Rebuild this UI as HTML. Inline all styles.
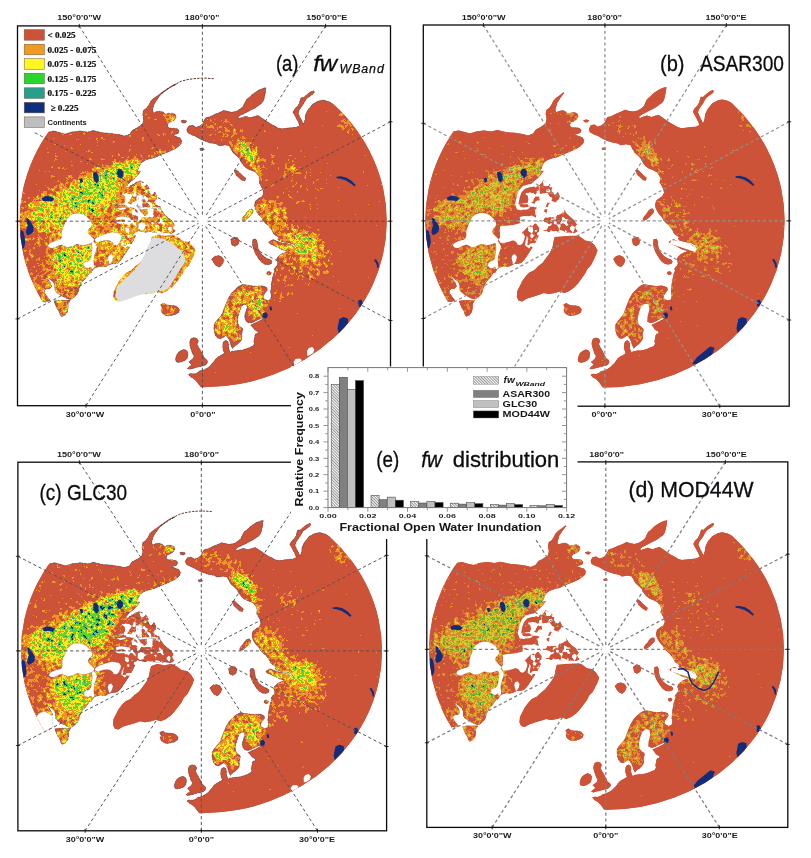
<!DOCTYPE html>
<html lang="en"><head><meta charset="utf-8"><title>Fractional open water maps</title>
<style>html,body{margin:0;padding:0;background:#fff}svg{display:block}text{font-family:"Liberation Sans",sans-serif;fill:#111}.tk{font-size:8.1px;font-weight:bold;text-anchor:middle;fill:#1a1a1a}.lg{font-family:"Liberation Serif",serif;font-weight:bold;font-size:9.2px;fill:#111;stroke:#111;stroke-width:0.22px}.ttl{font-size:21.5px;fill:#0c0c10;stroke:#0c0c10;stroke-width:0.3px}.hx{font-size:6.2px;font-weight:bold;text-anchor:middle;fill:#222}.hy{font-size:6.2px;font-weight:bold;text-anchor:end;fill:#222}</style></head><body>
<svg width="811" height="858" viewBox="0 0 811 858">
<defs>
<path id="na" d="M24.2,150.8 36.1,138.9 47.9,132.0 53.8,131.0 59.7,132.6 65.6,134.0 71.6,132.0 79.5,131.0 87.3,132.0 93.3,130.6 99.2,132.0 105.1,133.0 111.0,133.4 118.9,134.6 124.8,136.0 129.8,134.0 132.7,130.0 136.7,128.1 139.6,126.1 142.6,124.1 143.6,119.2 142.6,114.3 143.6,110.3 146.5,108.3 148.5,105.4 150.5,101.4 153.4,98.5 156.4,96.5 160.3,93.5 164.3,90.8 168.2,88.0 172.2,85.6 176.1,83.9 176.3,84.5 172.2,86.4 168.2,88.8 164.3,91.6 160.7,94.7 158.4,97.7 156.4,100.6 154.4,103.6 153.4,107.3 152.5,110.3 153.4,112.9 156.4,111.7 160.3,110.9 163.3,112.3 165.3,114.3 168.2,113.3 172.2,112.9 175.1,114.3 176.1,117.2 174.2,120.2 171.2,122.1 168.2,123.1 167.3,126.1 169.2,128.1 173.2,128.1 177.1,128.7 179.1,130.6 178.1,133.4 175.1,134.6 172.2,135.0 176.1,136.5 180.1,137.9 182.0,140.9 181.1,143.8 178.1,146.8 174.2,149.2 170.2,151.1 166.3,152.7 162.3,154.3 158.4,156.1 154.4,157.7 150.5,158.6 147.5,159.6 144.6,160.6 141.6,162.6 139.6,165.5 138.6,168.5 137.1,171.5 140.6,171.2 137.5,175.5 134.5,178.6 131.4,181.0 128.5,183.5 127.3,186.0 132.0,185.5 136.3,182.3 140.6,180.8 144.9,183.5 148.0,186.0 149.3,189.0 148.3,191.5 151.7,191.9 155.4,192.7 156.7,195.8 158.1,200.8 159.4,205.1 161.6,210.0 164.1,214.1 167.7,217.4 171.4,220.2 173.9,223.9 175.8,227.9 175.1,231.6 171.4,233.4 166.5,232.6 161.6,233.1 156.7,232.6 153.0,232.2 149.3,231.6 145.6,232.2 141.9,231.6 138.4,230.4 136.6,231.9 135.2,236.4 133.3,240.4 131.1,244.5 128.4,248.8 125.7,252.9 123.0,257.0 120.3,260.8 117.6,263.2 114.3,264.0 111.2,264.0 108.9,264.8 106.2,266.5 103.1,266.9 99.7,266.5 97.2,267.1 95.3,267.8 93.6,268.9 92.2,270.8 90.9,273.2 89.5,272.9 87.3,276.0 85.1,279.0 82.1,282.0 80.7,284.9 79.2,287.9 78.4,291.4 77.0,294.4 74.0,297.3 71.0,299.4 67.3,298.8 62.9,296.6 59.2,294.4 56.3,292.2 54.8,290.0 54.8,285.5 53.3,281.8 50.3,279.6 47.4,277.5 45.2,276.3 46.0,277.2 48.1,279.4 50.3,282.7 51.8,286.3 49.6,288.8 46.6,288.8 44.4,290.7 44.9,293.6 47.4,297.1 50.3,300.6 45.9,302.1 43.7,301.5 37.8,306.2 20.0,312.1 5.2,294.4 -0.7,250.0 -20.0,260.0 -30.0,200.0 -20.0,140.0Z"/>
<path id="eu" d="M186.8,129.6 188.7,125.9 192.4,125.1 195.7,127.3 199.4,126.2 202.6,123.6 204.2,120.3 205.7,117.7 209.0,117.0 214.6,114.4 220.1,112.2 223.8,110.3 227.9,111.6 232.2,112.2 236.8,111.1 240.5,108.8 243.3,106.3 244.6,102.9 246.4,99.6 249.0,97.7 252.0,94.8 255.3,92.2 259.0,90.0 262.7,88.5 266.0,87.6 265.6,91.3 264.7,95.9 263.6,100.5 261.8,103.3 259.0,105.1 255.3,107.9 251.6,109.8 247.9,111.6 244.2,113.5 240.5,115.3 238.1,117.3 238.6,118.8 241.4,117.7 246.0,116.2 250.7,117.7 255.3,116.2 258.1,115.5 260.8,117.3 264.5,119.9 267.3,121.8 270.1,123.6 273.8,125.5 277.5,127.7 281.2,128.8 285.8,128.3 291.4,127.7 296.0,127.3 299.7,125.5 298.2,121.8 296.0,117.7 294.1,114.4 293.0,112.2 294.9,108.8 297.5,106.3 299.3,103.3 300.4,99.6 301.2,97.4 303.4,97.7 305.2,95.9 308.0,93.7 310.8,91.8 313.5,90.7 314.5,92.2 312.6,94.4 309.8,96.3 307.1,98.1 304.9,101.1 303.4,104.2 301.2,107.0 299.3,109.8 298.2,112.9 300.0,117.2 301.9,120.9 303.4,124.2 304.9,119.9 305.6,114.8 308.0,109.8 312.6,104.2 318.2,101.1 322.8,100.1 328.3,101.4 335.0,104.4 420.0,100.0 460.0,230.0 420.0,420.0 203.0,440.0 202.1,393.6 200.7,386.9 199.2,384.7 197.0,381.7 194.0,378.8 191.0,377.3 188.8,375.1 188.8,374.3 191.0,373.6 194.0,374.0 197.0,372.9 199.2,371.1 201.4,370.6 203.6,369.9 206.6,368.4 208.8,366.9 211.0,364.7 213.2,362.5 214.7,360.3 216.2,358.4 218.4,356.6 221.4,355.1 223.6,353.9 224.3,352.9 223.2,349.9 222.6,347.0 222.9,344.0 223.6,341.8 225.8,340.3 228.0,341.8 228.8,344.7 228.5,347.7 229.5,350.7 230.6,352.7 231.6,351.3 234.4,351.0 236.6,350.5 239.4,350.5 242.7,349.9 246.1,348.8 249.4,347.5 252.9,346.1 254.4,343.8 253.8,341.1 254.4,338.3 254.9,335.5 255.8,333.8 257.7,333.8 258.0,331.6 255.5,330.5 253.8,328.9 252.2,326.6 250.7,325.1 253.8,323.6 257.2,322.0 260.5,320.3 262.9,319.2 262.7,317.8 260.5,318.5 257.2,320.2 253.8,321.9 250.5,323.0 248.6,322.7 246.4,321.6 245.0,319.4 244.7,316.6 245.3,313.3 246.4,310.0 247.2,306.7 246.3,304.7 244.1,304.2 241.3,306.4 240.2,310.0 239.1,313.3 238.0,316.6 237.4,320.0 238.0,323.5 239.7,326.4 242.2,328.2 242.7,329.7 242.1,332.2 241.5,335.0 242.1,337.7 241.0,340.5 239.3,342.5 237.7,344.1 235.6,345.6 233.6,347.3 232.7,348.6 231.9,347.2 230.7,344.4 230.0,341.6 228.9,339.4 227.7,337.7 227.0,336.4 225.5,335.7 223.3,337.2 220.5,338.8 217.8,338.3 215.5,335.5 214.1,331.1 213.9,327.2 214.0,324.6 215.9,321.8 218.1,319.0 220.5,316.2 222.4,313.5 223.7,309.8 225.1,306.1 226.6,302.4 227.9,299.2 229.8,295.9 231.6,293.1 234.4,290.3 237.2,287.6 239.9,285.7 242.7,284.4 246.4,284.8 251.0,285.7 255.7,286.3 260.3,285.7 264.0,286.3 266.8,287.6 267.3,290.0 265.5,292.6 263.6,295.0 263.1,297.7 264.9,299.6 267.7,300.5 270.5,299.6 271.4,295.9 270.6,292.2 271.0,288.5 271.4,283.9 272.3,279.2 273.2,274.6 275.1,270.0 273.8,269.9 275.0,267.7 276.6,266.0 277.7,263.8 277.2,261.6 276.6,259.4 277.7,257.1 279.4,255.5 281.6,253.8 283.8,252.7 286.0,252.2 287.2,251.0 284.9,250.5 281.6,249.4 278.8,248.0 275.5,246.3 272.7,244.9 270.0,243.8 268.3,242.2 270.5,240.7 273.3,239.6 276.6,241.1 279.4,242.2 282.7,242.9 287.2,243.8 291.0,244.7 293.8,246.3 295.5,248.5 296.3,247.4 294.9,245.2 291.6,243.6 287.2,242.7 282.7,241.8 279.4,240.7 277.7,239.2 278.8,237.7 277.2,236.3 275.0,235.0 273.3,233.3 272.2,230.5 270.5,228.3 268.3,225.5 265.5,223.3 263.3,221.1 261.6,217.7 258.9,215.0 256.6,211.6 255.0,208.3 254.4,205.0 255.5,201.1 258.9,198.3 261.8,196.7 263.6,193.0 262.7,189.3 260.8,185.6 259.0,182.8 259.9,180.0 259.0,176.4 256.2,172.7 252.5,170.8 247.9,169.0 244.2,166.2 241.4,162.5 239.6,158.8 236.8,156.0 233.5,153.2 231.2,149.5 229.4,145.8 224.8,144.9 219.2,145.8 216.4,144.0 210.9,143.1 205.3,141.2 200.7,139.4 196.1,136.6 191.5,134.7 187.8,132.9Z"/>
<path id="isl" d="M267.0,272.1 269.4,271.4 271.4,272.7 270.7,274.7 268.3,275.1 266.7,273.8Z M54.0,301.0 58.5,300.3 64.4,300.3 70.3,300.3 68.1,304.0 68.1,307.7 67.3,312.1 64.4,315.8 61.4,316.6 60.0,314.4 59.2,311.4 57.0,308.4 55.5,304.7Z M160.7,304.8 163.7,303.0 166.6,304.8 169.6,305.5 173.3,305.5 177.0,306.6 179.4,309.2 178.8,312.2 176.3,314.0 172.6,315.2 168.9,316.0 165.2,315.2 162.2,312.9 161.0,310.0 162.2,307.8Z M191.0,338.8 194.0,337.6 197.0,338.5 198.4,341.0 197.0,344.0 198.4,347.0 199.9,349.2 201.4,352.1 202.9,355.1 204.4,358.1 206.6,359.5 207.8,361.8 206.6,364.0 204.4,365.5 201.4,366.2 198.4,366.9 195.5,367.7 192.5,368.4 189.6,369.2 187.3,368.4 189.6,366.2 191.8,364.7 190.3,363.2 188.8,361.8 191.0,360.3 193.3,358.1 194.0,355.8 192.5,353.6 191.8,351.4 191.0,349.2 190.3,347.0 189.6,344.0 190.0,341.0Z M175.5,359.5 176.3,355.8 177.7,352.9 180.7,350.7 183.6,349.5 186.6,350.4 188.1,352.9 187.6,355.8 187.1,358.4 185.1,360.3 182.2,361.8 178.8,362.5 176.3,361.8Z M252.8,239.6 255.9,238.9 257.2,241.6 257.4,244.9 258.1,248.3 259.6,251.4 261.9,254.5 264.5,256.9 267.6,258.7 270.7,259.8 272.3,261.4 271.4,263.6 268.3,264.7 264.7,264.2 261.6,262.3 259.2,259.4 257.0,256.0 254.8,252.5 253.3,248.5 252.5,244.4Z M251.6,208.9 253.3,210.5 252.8,213.3 250.5,215.5 248.3,217.7 245.5,220.0 242.8,221.1 241.7,219.4 243.3,216.6 245.5,214.4 247.2,211.6 249.4,209.4Z M211.7,259.2 214.7,256.2 218.4,255.5 222.1,257.2 224.0,260.4 222.6,264.1 219.6,267.1 216.6,266.1 214.2,263.6Z M230.7,239.5 233.9,237.0 237.3,237.5 239.3,240.7 238.1,244.4 234.9,246.4 231.9,244.9Z M234.0,170.8 236.8,169.9 239.6,172.7 242.3,175.4 245.7,178.2 245.1,181.0 242.3,180.6 239.6,178.2 236.4,175.4Z M199.8,148.6 203.5,148.1 204.4,149.9 200.7,150.6Z M181.1,120.8 184.4,120.0 187.2,121.2 185.0,123.1 182.0,122.7Z"/>
<path id="gl" d="M151.9,237.0 158.1,234.5 165.5,235.8 172.9,234.5 177.8,237.0 182.8,240.7 188.9,241.9 192.6,245.6 195.6,250.6 193.9,255.5 191.4,260.4 188.9,265.4 185.2,269.1 182.8,274.0 179.1,278.9 175.4,283.8 171.7,287.5 166.7,291.2 161.8,293.2 156.9,291.7 151.9,293.2 145.8,294.2 140.8,293.2 135.9,294.9 129.7,296.7 123.6,298.6 118.6,301.6 114.9,300.6 113.2,296.7 113.7,291.2 116.2,286.3 118.6,281.4 122.3,276.4 126.0,272.7 131.0,270.3 134.7,266.6 139.6,262.9 143.3,258.0 147.0,253.0 149.5,248.1 150.7,241.9Z"/>
<path id="glin" d="M152.3,237.5 164.1,238.8 174.5,244.9 183.1,252.8 185.6,260.7 180.6,268.6 174.7,278.5 167.6,289.1 156.7,292.0 146.9,293.3 137.0,295.7 127.1,299.4 119.2,301.9 115.3,296.7 116.8,287.3 122.7,280.4 130.1,274.3 137.5,266.9 143.6,257.0 147.6,247.1Z"/>
<path id="wat" d="M67.8,217.6 71.2,214.6 75.5,213.2 80.7,213.6 85.4,215.6 89.1,218.7 91.5,221.7 92.2,225.1 90.9,227.1 88.8,229.2 87.7,231.9 89.5,234.6 92.2,237.3 94.3,239.3 93.6,242.0 91.5,243.4 88.8,243.7 86.1,244.8 83.1,245.4 80.0,244.8 76.6,244.1 73.9,245.4 70.5,246.8 67.1,247.5 64.4,246.1 61.7,244.8 59.0,245.4 56.3,246.8 52.9,248.2 49.5,247.7 47.9,245.8 49.2,243.4 52.2,242.0 55.6,240.7 59.0,240.0 61.0,238.7 61.7,235.5 61.4,232.6 62.4,229.2 63.7,225.8 65.1,222.4 66.4,219.7Z M93.6,241.4 95.6,244.1 97.0,246.8 96.3,250.2 94.9,253.6 94.0,257.0 93.6,260.4 94.0,263.7 94.3,267.8 92.2,269.4 90.9,266.7 88.2,268.5 85.4,267.8 83.7,265.8 84.1,263.1 86.1,261.7 88.8,261.0 90.5,259.0 91.3,255.6 91.8,252.2 92.2,248.8 91.9,245.4 91.5,243.1Z M94.3,239.6 97.0,237.3 100.4,235.9 103.7,234.6 107.8,233.2 111.9,232.3 116.0,232.6 120.0,233.9 121.4,236.6 120.7,240.0 119.3,243.4 116.6,245.4 113.9,244.8 112.6,242.3 110.5,241.0 107.1,240.3 103.7,240.7 100.4,241.4 97.6,242.3 95.6,241.8Z M108.5,255.6 111.2,254.3 113.2,257.0 112.6,260.4 111.2,263.1 109.4,264.4 108.5,261.0 107.8,258.3Z M126.4,204.2 123.4,204.7 119.7,204.5 116.6,204.2 114.1,205.4 115.3,207.5 117.8,209.1 120.9,210.1 124.6,209.6 126.6,207.9Z M124.6,219.9 121.5,219.5 118.4,220.0 115.7,221.1 116.6,223.0 119.7,223.9 122.7,223.7 125.2,222.7Z M137.5,194.6 139.4,195.2 141.6,196.4 141.9,200.8 140.9,204.5 139.4,206.7 137.5,205.7 138.2,202.0 138.4,198.3Z M138.8,206.9 141.9,207.5 146.8,206.9 153.0,206.7 159.1,207.5 159.4,208.8 154.2,208.4 148.0,208.8 142.5,209.6 139.1,209.6Z M136.6,195.0 140.5,193.9 143.3,196.1 142.7,200.0 142.2,203.3 142.7,207.2 140.5,208.3 138.3,207.2 137.2,203.3 136.3,198.9Z M115.0,205.0 119.4,203.8 123.9,203.3 128.3,203.3 132.7,204.4 137.2,206.6 139.4,208.8 141.1,212.2 140.5,214.4 138.3,213.8 137.2,210.5 134.4,208.3 130.5,207.2 126.1,207.2 121.6,207.7 117.2,208.3 114.8,207.2Z M147.7,207.2 151.6,206.6 153.8,208.8 153.6,213.3 152.2,216.1 149.4,216.6 147.7,214.4 147.2,210.5Z M116.1,217.2 120.5,216.4 125.0,216.6 130.0,217.7 131.1,219.9 128.9,221.6 125.0,221.3 120.5,221.6 116.7,220.8Z M138.3,223.3 141.6,222.2 145.0,223.3 145.5,226.6 143.8,229.9 140.5,230.5 138.1,228.3Z"/>
<path id="watac" d="M307.0,351.0 308.8,348.1 312.2,347.1 314.4,349.6 313.2,353.0 310.0,355.0 307.3,355.9Z M293.7,362.1 295.5,358.9 299.6,358.4 301.8,359.9 300.3,362.9 297.4,365.1 294.4,365.8Z"/>
<path id="aleut" d="M161.3,93.5 166.3,90.0 171.2,86.6 176.1,83.9 181.1,81.3 187.0,79.7 193.9,78.7 200.0,78.2 206.7,78.2 213.6,78.7"/>
<path id="blacksea" d="M292.7,363.0 297.3,357.1 304.0,351.7 310.7,346.4 315.2,347.7 312.6,355.0 307.2,360.3 300.8,365.7 294.6,367.8Z"/>
<path id="ob" d="M277.2,241.8 282.6,241.3 287.4,244.5 289.3,251.2 291.9,256.6 297.3,261.1 304.0,263.8 309.9,261.1 314.2,255.2 317.4,248.5 319.3,244.5"/>
<path id="watbd" d="M139.8,179.3 135.6,182.6 130.0,184.0 124.7,184.8 119.4,186.3 115.3,190.7 112.9,197.3 111.4,204.7 113.4,209.9 118.7,210.6 120.9,208.4 117.2,207.4 114.9,204.0 116.0,198.1 117.9,192.9 121.4,189.2 126.2,187.7 131.5,186.7 136.5,185.5 139.1,182.6Z M135.6,194.7 144.4,193.2 147.1,197.3 144.4,203.2 141.6,209.2 140.6,215.1 138.6,221.0 135.6,222.4 132.6,219.5 133.2,213.6 135.6,207.7 137.1,201.8Z M145.9,204.0 150.4,202.5 155.7,203.2 160.2,204.7 161.3,209.2 159.5,213.6 155.7,215.4 150.4,214.8 146.6,216.5 143.6,215.1 144.1,209.9Z M135.0,220.2 139.1,219.2 141.3,222.4 141.0,228.4 139.8,234.3 137.6,237.2 135.6,234.3 136.1,228.4 135.3,223.9Z M123.2,217.3 128.5,215.8 133.0,218.0 133.5,222.4 130.0,225.4 125.5,226.1 121.7,229.8 117.2,234.3 112.6,238.7 106.6,241.6 100.5,243.1 96.0,243.1 96.0,226.9 102.0,226.1 109.6,225.4 117.2,223.2 120.9,220.2Z M141.3,235.0 150.4,234.3 159.5,234.0 168.5,233.5 176.1,234.3 176.9,236.0 168.5,236.0 159.5,236.5 151.2,237.2 144.4,238.7 140.6,238.0Z M157.6,89.6 167.4,99.5 191.9,85.6 178.1,69.9Z M270.7,240.2 279.9,241.2 290.1,244.2 297.2,249.2 295.2,252.2 286.0,249.2 276.8,246.2 269.6,244.2Z M243.8,303.8 247.6,304.4 248.5,310.0 246.7,316.6 246.3,322.2 248.9,323.1 243.3,329.1 237.4,324.2 236.7,317.8 238.5,311.1 240.3,306.4Z"/>
<clipPath id="disc"><ellipse cx="203.2" cy="221.2" rx="183.5" ry="166.0"/></clipPath>
<pattern id="hatch" width="2" height="2" patternUnits="userSpaceOnUse" patternTransform="rotate(45)"><rect width="2" height="2" fill="#fff"/><rect width="2" height="0.8" fill="#777"/></pattern>
<path id="wz0" d="M10.0,120.0 190.0,100.0 190.0,170.0 150.0,170.0 100.0,180.0 40.0,215.0 10.0,240.0Z"/>
<path id="wz1" d="M14.0,218.0 24.0,205.0 40.0,193.0 62.0,181.0 90.0,170.0 116.0,160.0 140.0,157.0 150.0,168.0 156.0,190.0 170.0,200.0 185.0,215.0 190.0,235.0 170.0,250.0 140.0,262.0 120.0,285.0 100.0,315.0 85.0,335.0 60.0,340.0 40.0,310.0 22.0,270.0 14.0,240.0Z"/>
<path id="wz2" d="M54.8,200.7 64.7,190.8 77.0,183.4 89.3,176.5 101.7,170.0 118.4,163.5 138.0,160.5 142.0,168.0 136.0,180.0 122.0,190.0 114.0,196.0 109.0,202.0 104.0,209.3 98.0,214.3 89.3,215.5 81.9,211.8 74.5,211.8 67.1,215.5 61.0,219.2 54.8,216.7 49.9,211.8 47.4,206.9Z"/>
<path id="wz3" d="M16.0,226.0 44.0,230.0 49.0,250.0 47.0,268.0 40.0,290.0 26.0,275.0 16.0,250.0Z"/>
<path id="wz4" d="M30.0,205.0 50.0,197.0 66.0,202.0 71.0,215.0 66.0,228.0 50.0,231.0 36.0,227.0 28.0,216.0Z"/>
<path id="wz5" d="M54.9,250.2 67.1,248.8 80.7,246.8 91.5,245.4 93.6,254.3 90.2,259.7 84.8,261.0 83.4,266.5 88.8,270.5 86.1,277.3 80.7,282.7 73.9,284.1 67.1,281.4 60.3,276.0 54.9,267.8 52.2,258.3Z"/>
<path id="wz6" d="M166.0,112.0 172.0,110.0 175.0,118.0 170.0,123.0 165.0,120.0Z"/>
<path id="wz7" d="M150.0,155.0 176.0,146.0 181.0,151.0 156.0,164.0Z"/>
<path id="wz8" d="M120.0,178.0 150.0,178.0 175.0,200.0 180.0,225.0 160.0,240.0 135.0,262.0 118.0,262.0 110.0,235.0 112.0,205.0Z"/>
<path id="wz9" d="M190.0,80.0 400.0,80.0 400.0,400.0 190.0,400.0Z"/>
<path id="wz10" d="M105.0,230.0 150.0,220.0 204.0,228.0 210.0,260.0 185.0,300.0 150.0,310.0 110.0,315.0Z"/>
<path id="wz11" d="M262.0,150.0 300.0,150.0 330.0,180.0 320.0,215.0 285.0,205.0 265.0,185.0Z"/>
<path id="wz12" d="M230.9,145.2 239.8,142.9 250.2,143.7 256.8,149.6 259.0,158.5 260.5,168.8 262.7,177.7 263.5,186.6 260.5,185.1 256.8,176.2 253.1,167.4 247.2,161.4 241.3,157.0 235.4,152.6 231.7,148.9Z"/>
<path id="wz13" d="M195.0,118.0 220.0,116.0 240.0,125.0 250.0,142.0 232.0,143.0 205.0,135.0Z"/>
<path id="wz14" d="M288.6,160.0 291.6,162.9 296.0,167.4 300.5,171.0 297.5,174.8 291.6,173.3 287.1,174.8 282.7,174.0 287.1,168.8 288.6,164.4Z"/>
<path id="wz15" d="M256.8,199.9 265.0,197.0 273.8,202.9 282.7,208.8 287.1,220.6 299.0,226.5 307.9,232.5 319.7,240.0 273.8,240.0 269.4,229.5 262.0,222.1 256.1,211.7Z"/>
<path id="wz16" d="M336.0,112.0 352.0,110.0 358.0,124.0 352.0,134.0 338.0,130.0Z"/>
<path id="wz17" d="M256.6,200.0 271.4,197.5 286.2,204.9 288.6,219.7 283.7,232.1 273.8,233.3 266.4,224.7 260.3,214.8Z"/>
<path id="wz18" d="M271.4,232.1 293.6,227.1 318.2,229.6 333.0,249.3 330.6,274.0 308.4,283.8 288.6,274.0 276.3,256.7 270.1,241.9Z"/>
<path id="wz19" d="M291.1,234.5 305.9,231.6 318.2,237.0 320.7,249.3 314.5,259.2 302.2,260.4 293.6,253.0 289.9,243.2Z"/>
<path id="wz20" d="M270.9,240.7 278.8,242.4 288.6,245.6 298.5,248.1 298.5,252.3 288.6,252.3 278.8,250.6 272.6,246.9Z"/>
<path id="wz21" d="M264.0,261.7 278.8,259.2 293.6,274.0 293.6,298.6 273.8,306.0 264.0,298.6Z"/>
<path id="wz22" d="M213.4,323.3 222.1,306.0 231.9,291.2 243.0,285.1 264.0,285.1 266.4,298.6 264.0,318.4 251.7,320.8 245.5,304.8 239.3,308.5 240.6,328.2 245.5,338.1 236.9,344.3 227.0,336.9 215.9,336.9Z"/>
<path id="wz23" d="M248.0,303.6 256.6,298.6 264.0,303.6 263.5,315.9 254.1,318.9 248.7,313.4Z"/>
<path id="wz24" d="M214.7,323.3 222.1,315.9 229.5,323.3 227.0,334.4 217.1,335.6Z"/>
<path id="wz25" d="M160.7,304.8 169.6,304.1 179.4,309.2 176.3,314.4 168.9,316.3 162.2,312.9Z"/>
<path id="wz26" d="M240.0,206.0 256.0,206.0 256.0,224.0 240.0,224.0Z"/>
<path id="lakes" d="M118.2,169.6 121.1,168.9 123.6,172.1 123.1,176.3 120.6,178.7 118.2,177.0 116.7,173.3Z M93.0,172.8 96.0,171.8 98.4,175.3 98.9,180.2 96.9,183.2 94.5,181.2 93.2,177.0Z M79.2,178.7 82.1,178.2 83.1,181.7 80.7,183.2Z M41.7,198.0 45.9,196.0 50.8,196.7 54.5,198.7 52.1,201.4 47.1,200.9 42.7,200.9Z M26.5,217.5 29.0,219.3 31.4,223.0 33.9,227.3 33.3,231.7 30.8,234.1 27.7,235.4 25.9,232.9 26.5,229.2 27.7,225.5 26.5,221.8Z M21.0,229.8 23.4,231.7 24.7,236.6 25.3,242.7 24.0,247.7 22.2,248.9 21.0,244.0 20.3,237.8 20.0,232.9Z M263.0,312.9 266.0,312.2 267.9,314.7 266.9,317.9 264.0,318.4 262.5,315.9Z M269.4,306.5 271.4,306.5 272.1,310.0 270.1,310.5Z M339.4,318.9 343.4,317.1 347.8,318.4 348.3,323.3 345.9,328.2 342.9,333.2 339.0,334.4 337.5,328.2 338.5,323.3Z M358.2,300.6 361.1,299.6 362.9,303.1 361.6,307.0 358.7,306.5Z M374.0,259.7 375.9,259.2 378.4,262.9 378.9,267.6 377.4,268.1 376.4,264.1Z M336.5,176.8 340.9,176.3 346.6,177.7 351.5,180.7 355.7,185.1 354.7,186.4 350.3,183.2 345.4,180.2 340.4,178.7 336.7,178.2Z"/>
<clipPath id="archclip"><path d="M136.6,180.5 149.4,181.7 151.6,190.0 158.3,193.3 162.7,205.5 169.4,216.6 176.0,223.3 177.1,232.1 167.1,234.4 151.6,232.1 138.3,236.6 135.0,245.5 127.2,249.9 121.6,245.5 122.8,236.6 121.6,222.2 132.7,218.8 131.6,210.0 122.8,206.6 121.6,197.7 123.9,187.8Z"/></clipPath>
<filter id="fragA" x="0" y="0" width="1" height="1" color-interpolation-filters="sRGB"><feTurbulence type="fractalNoise" baseFrequency="0.16" numOctaves="2" seed="5"/><feColorMatrix type="matrix" values="0 0 0 0 1 0 0 0 0 1 0 0 0 0 1 12 0 0 0 -6.5"/></filter>
<filter id="fragB" x="0" y="0" width="1" height="1" color-interpolation-filters="sRGB"><feTurbulence type="fractalNoise" baseFrequency="0.16" numOctaves="2" seed="5"/><feColorMatrix type="matrix" values="0 0 0 0 1 0 0 0 0 1 0 0 0 0 1 12 0 0 0 -5.9"/></filter>
<clipPath id="landclip"><use href="#na"/><use href="#eu"/><use href="#isl"/><use href="#gl"/></clipPath>
<filter id="texa" x="0" y="0" width="1" height="1" color-interpolation-filters="sRGB"><feGaussianBlur in="SourceGraphic" stdDeviation="3.2" result="w"/><feTurbulence type="fractalNoise" baseFrequency="0.24" numOctaves="3" seed="3" result="n0"/><feColorMatrix in="n0" type="matrix" values="1 0 0 0 0 1 0 0 0 0 1 0 0 0 0 0 0 0 0 1" result="n"/><feComposite in="w" in2="n" operator="arithmetic" k1="0" k2="1" k3="0.85" k4="-0.425" result="v"/><feComponentTransfer in="v"><feFuncR type="discrete" tableValues="0.800 0.800 0.800 0.800 0.800 0.800 0.800 0.800 0.800 0.933 0.933 0.933 0.933 0.965 0.965 0.965 0.376 0.376 0.376 0.376 0.149 0.071 0.071 0.071 0.071"/><feFuncG type="discrete" tableValues="0.325 0.325 0.325 0.325 0.325 0.325 0.325 0.325 0.325 0.588 0.588 0.588 0.588 0.910 0.910 0.910 0.824 0.824 0.824 0.824 0.627 0.173 0.173 0.173 0.173"/><feFuncB type="discrete" tableValues="0.220 0.220 0.220 0.220 0.220 0.220 0.220 0.220 0.220 0.141 0.141 0.141 0.141 0.149 0.149 0.149 0.173 0.173 0.173 0.173 0.529 0.471 0.471 0.471 0.471"/></feComponentTransfer><feGaussianBlur stdDeviation="0.45"/></filter>
<filter id="texb" x="0" y="0" width="1" height="1" color-interpolation-filters="sRGB"><feGaussianBlur in="SourceGraphic" stdDeviation="3.2" result="w"/><feTurbulence type="fractalNoise" baseFrequency="0.24" numOctaves="3" seed="11" result="n0"/><feColorMatrix in="n0" type="matrix" values="1 0 0 0 0 1 0 0 0 0 1 0 0 0 0 0 0 0 0 1" result="n"/><feComposite in="w" in2="n" operator="arithmetic" k1="0" k2="1" k3="0.85" k4="-0.425" result="v"/><feComponentTransfer in="v"><feFuncR type="discrete" tableValues="0.800 0.800 0.800 0.800 0.800 0.800 0.800 0.800 0.800 0.871 0.871 0.871 0.871 0.839 0.839 0.839 0.471 0.471 0.471 0.471 0.157 0.071 0.071 0.071 0.071"/><feFuncG type="discrete" tableValues="0.325 0.325 0.325 0.325 0.325 0.325 0.325 0.325 0.325 0.549 0.549 0.549 0.549 0.784 0.784 0.784 0.698 0.698 0.698 0.698 0.510 0.173 0.173 0.173 0.173"/><feFuncB type="discrete" tableValues="0.220 0.220 0.220 0.220 0.220 0.220 0.220 0.220 0.220 0.173 0.173 0.173 0.173 0.188 0.188 0.188 0.196 0.196 0.196 0.196 0.471 0.471 0.471 0.471 0.471"/></feComponentTransfer><feGaussianBlur stdDeviation="0.45"/></filter>
<filter id="texc" x="0" y="0" width="1" height="1" color-interpolation-filters="sRGB"><feGaussianBlur in="SourceGraphic" stdDeviation="3.2" result="w"/><feTurbulence type="fractalNoise" baseFrequency="0.24" numOctaves="3" seed="7" result="n0"/><feColorMatrix in="n0" type="matrix" values="1 0 0 0 0 1 0 0 0 0 1 0 0 0 0 0 0 0 0 1" result="n"/><feComposite in="w" in2="n" operator="arithmetic" k1="0" k2="1" k3="0.85" k4="-0.425" result="v"/><feComponentTransfer in="v"><feFuncR type="discrete" tableValues="0.800 0.800 0.800 0.800 0.800 0.800 0.800 0.800 0.800 0.933 0.933 0.933 0.933 0.965 0.965 0.965 0.376 0.376 0.376 0.376 0.149 0.071 0.071 0.071 0.071"/><feFuncG type="discrete" tableValues="0.325 0.325 0.325 0.325 0.325 0.325 0.325 0.325 0.325 0.588 0.588 0.588 0.588 0.910 0.910 0.910 0.824 0.824 0.824 0.824 0.627 0.173 0.173 0.173 0.173"/><feFuncB type="discrete" tableValues="0.220 0.220 0.220 0.220 0.220 0.220 0.220 0.220 0.220 0.141 0.141 0.141 0.141 0.149 0.149 0.149 0.173 0.173 0.173 0.173 0.529 0.471 0.471 0.471 0.471"/></feComponentTransfer><feGaussianBlur stdDeviation="0.45"/></filter>
<filter id="texd" x="0" y="0" width="1" height="1" color-interpolation-filters="sRGB"><feGaussianBlur in="SourceGraphic" stdDeviation="3.2" result="w"/><feTurbulence type="fractalNoise" baseFrequency="0.24" numOctaves="3" seed="23" result="n0"/><feColorMatrix in="n0" type="matrix" values="1 0 0 0 0 1 0 0 0 0 1 0 0 0 0 0 0 0 0 1" result="n"/><feComposite in="w" in2="n" operator="arithmetic" k1="0" k2="1" k3="0.85" k4="-0.425" result="v"/><feComponentTransfer in="v"><feFuncR type="discrete" tableValues="0.800 0.800 0.800 0.800 0.800 0.800 0.800 0.800 0.800 0.871 0.871 0.871 0.871 0.839 0.839 0.839 0.471 0.471 0.471 0.471 0.157 0.071 0.071 0.071 0.071"/><feFuncG type="discrete" tableValues="0.325 0.325 0.325 0.325 0.325 0.325 0.325 0.325 0.325 0.549 0.549 0.549 0.549 0.784 0.784 0.784 0.698 0.698 0.698 0.698 0.510 0.173 0.173 0.173 0.173"/><feFuncB type="discrete" tableValues="0.220 0.220 0.220 0.220 0.220 0.220 0.220 0.220 0.220 0.173 0.173 0.173 0.173 0.188 0.188 0.188 0.196 0.196 0.196 0.196 0.471 0.471 0.471 0.471 0.471"/></feComponentTransfer><feGaussianBlur stdDeviation="0.45"/></filter>
</defs>
<rect width="811" height="858" fill="#fff"/>
<g id="panel-a">
<g transform="matrix(1.00000 0 0 1.00000 0.000 0.000)"><g clip-path="url(#disc)">
<use href="#na" fill="#CC5338"/><use href="#eu" fill="#CC5338"/><use href="#isl" fill="#CC5338"/>
<g clip-path="url(#landclip)"><g filter="url(#texa)"><rect x="0" y="30" width="420" height="390" fill="#000"/>
<use href="#wz0" fill="rgb(43,43,43)"/>
<use href="#wz1" fill="rgb(102,102,102)"/>
<use href="#wz2" fill="rgb(161,161,161)"/>
<use href="#wz3" fill="rgb(71,71,71)"/>
<use href="#wz4" fill="rgb(143,143,143)"/>
<use href="#wz5" fill="rgb(153,153,153)"/>
<use href="#wz6" fill="rgb(158,158,158)"/>
<use href="#wz7" fill="rgb(102,102,102)"/>
<use href="#wz8" fill="rgb(102,102,102)"/>
<use href="#wz9" fill="rgb(20,20,20)"/>
<use href="#wz10" fill="rgb(120,120,120)"/>
<use href="#wz11" fill="rgb(51,51,51)"/>
<use href="#wz12" fill="rgb(161,161,161)"/>
<use href="#wz13" fill="rgb(76,76,76)"/>
<use href="#wz14" fill="rgb(117,117,117)"/>
<use href="#wz15" fill="rgb(115,115,115)"/>
<use href="#wz16" fill="rgb(92,92,92)"/>
<use href="#wz17" fill="rgb(107,107,107)"/>
<use href="#wz18" fill="rgb(84,84,84)"/>
<use href="#wz19" fill="rgb(140,140,140)"/>
<use href="#wz20" fill="rgb(128,128,128)"/>
<use href="#wz21" fill="rgb(64,64,64)"/>
<use href="#wz22" fill="rgb(115,115,115)"/>
<use href="#wz23" fill="rgb(143,143,143)"/>
<use href="#wz24" fill="rgb(133,133,133)"/>
<use href="#wz25" fill="rgb(102,102,102)"/>
<use href="#wz26" fill="rgb(148,148,148)"/>
</g></g>
<use href="#lakes" fill="#122C7C"/>
<use href="#glin" fill="#DDDDE0"/>
<g fill="none" stroke="#1f4a66" stroke-width="0.9" stroke-opacity="0.5" stroke-dasharray="3 1.5 1 2 5 1"><use href="#na"/><use href="#eu"/><use href="#isl"/></g>
<use href="#wat" fill="#fff" stroke="#1f4a66" stroke-width="0.7" stroke-opacity="0.4" stroke-dasharray="3 1.5 1 2 5 1"/>
<g clip-path="url(#archclip)"><rect x="100" y="170" width="90" height="90" fill="#fff" filter="url(#fragA)"/></g>
<use href="#watac" fill="#fff"/><use href="#aleut" fill="none" stroke="#5b3328" stroke-width="1.0" stroke-dasharray="2.4 1.2"/>
</g></g>
<g stroke="#4a4a4a" stroke-width="0.9" stroke-dasharray="3.2 2.6" fill="none">
<line x1="202.4" y1="25.9" x2="202.4" y2="217.2"/>
<line x1="325.6" y1="25.9" x2="204.9" y2="217.2"/>
<line x1="390.5" y1="121.8" x2="206.4" y2="219.1"/>
<line x1="390.5" y1="221.2" x2="206.4" y2="221.2"/>
<line x1="390.5" y1="320.6" x2="206.4" y2="223.3"/>
<line x1="318.8" y1="405.7" x2="204.9" y2="225.2"/>
<line x1="202.4" y1="405.7" x2="202.4" y2="225.2"/>
<line x1="86.0" y1="405.7" x2="199.9" y2="225.2"/>
<line x1="17.5" y1="318.9" x2="198.4" y2="223.3"/>
<line x1="17.5" y1="221.2" x2="198.4" y2="221.2"/>
<line x1="34.8" y1="132.7" x2="198.4" y2="219.1"/>
<line x1="79.2" y1="25.9" x2="199.9" y2="217.2"/>
</g>
<path d="M202.4,23.9v4 M325.6,23.9v4 M388.5,121.8h4 M388.5,221.2h4 M388.5,320.6h4 M318.8,403.7v4 M202.4,403.7v4 M86.0,403.7v4 M15.5,318.9h4 M15.5,221.2h4 M79.2,23.9v4" stroke="#222" stroke-width="0.9" fill="none"/>
<rect x="17.5" y="25.9" width="373.0" height="379.8" fill="none" stroke="#0a0a0a" stroke-width="1.3"/>
</g>
<g id="panel-b">
<g transform="matrix(0.97902 0 0 1.00301 406.013 -0.966)"><g clip-path="url(#disc)">
<use href="#na" fill="#CC5338"/><use href="#eu" fill="#CC5338"/><use href="#isl" fill="#CC5338"/>
<g clip-path="url(#landclip)"><g filter="url(#texb)"><rect x="0" y="30" width="420" height="390" fill="#000"/>
<use href="#wz0" fill="rgb(34,34,34)"/>
<use href="#wz1" fill="rgb(69,69,69)"/>
<use href="#wz2" fill="rgb(133,133,133)"/>
<use href="#wz3" fill="rgb(51,51,51)"/>
<use href="#wz4" fill="rgb(122,122,122)"/>
<use href="#wz5" fill="rgb(128,128,128)"/>
<use href="#wz6" fill="rgb(123,123,123)"/>
<use href="#wz7" fill="rgb(80,80,80)"/>
<use href="#wz8" fill="rgb(36,36,36)"/>
<use href="#wz9" fill="rgb(13,13,13)"/>
<use href="#wz10" fill="rgb(0,0,0)"/>
<use href="#wz11" fill="rgb(40,40,40)"/>
<use href="#wz12" fill="rgb(125,125,125)"/>
<use href="#wz13" fill="rgb(60,60,60)"/>
<use href="#wz14" fill="rgb(91,91,91)"/>
<use href="#wz15" fill="rgb(90,90,90)"/>
<use href="#wz16" fill="rgb(72,72,72)"/>
<use href="#wz17" fill="rgb(84,84,84)"/>
<use href="#wz18" fill="rgb(66,66,66)"/>
<use href="#wz19" fill="rgb(109,109,109)"/>
<use href="#wz20" fill="rgb(99,99,99)"/>
<use href="#wz21" fill="rgb(50,50,50)"/>
<use href="#wz22" fill="rgb(90,90,90)"/>
<use href="#wz23" fill="rgb(111,111,111)"/>
<use href="#wz24" fill="rgb(103,103,103)"/>
<use href="#wz25" fill="rgb(80,80,80)"/>
<use href="#wz26" fill="rgb(0,0,0)"/>
</g></g>
<use href="#lakes" fill="#122C7C"/>
<use href="#gl" fill="#CC5338"/>
<use href="#wat" fill="#fff"/>
<g clip-path="url(#archclip)"><rect x="100" y="170" width="90" height="90" fill="#fff" filter="url(#fragB)"/></g>
<use href="#watbd" fill="#fff"/><use href="#blacksea" fill="#122C7C"/>
</g></g>
<g stroke="#909090" stroke-width="1.25" stroke-dasharray="3.2 2.6" fill="none">
<line x1="604.9" y1="25.0" x2="604.9" y2="216.9"/>
<line x1="726.4" y1="25.0" x2="607.4" y2="216.9"/>
<line x1="789.2" y1="121.8" x2="608.9" y2="218.7"/>
<line x1="789.2" y1="220.9" x2="608.9" y2="220.9"/>
<line x1="789.2" y1="320.0" x2="608.9" y2="223.1"/>
<line x1="719.8" y1="406.2" x2="607.4" y2="224.9"/>
<line x1="604.9" y1="406.2" x2="604.9" y2="224.9"/>
<line x1="490.0" y1="406.2" x2="602.4" y2="224.9"/>
<line x1="423.3" y1="318.5" x2="600.9" y2="223.1"/>
<line x1="423.3" y1="220.9" x2="600.9" y2="220.9"/>
<line x1="423.3" y1="123.3" x2="600.9" y2="218.7"/>
<line x1="483.4" y1="25.0" x2="602.4" y2="216.9"/>
</g>
<path d="M604.9,23.0v4 M726.4,23.0v4 M787.2,121.8h4 M787.2,220.9h4 M787.2,320.0h4 M719.8,404.2v4 M604.9,404.2v4 M490.0,404.2v4 M421.3,318.5h4 M421.3,220.9h4 M421.3,123.3h4 M483.4,23.0v4" stroke="#222" stroke-width="0.9" fill="none"/>
<rect x="423.3" y="25.0" width="365.9" height="381.2" fill="none" stroke="#0a0a0a" stroke-width="1.3"/>
</g>
<g id="panel-c">
<g transform="matrix(0.98365 0 0 0.97771 1.622 434.630)"><g clip-path="url(#disc)">
<use href="#na" fill="#CC5338"/><use href="#eu" fill="#CC5338"/><use href="#isl" fill="#CC5338"/>
<g clip-path="url(#landclip)"><g filter="url(#texc)"><rect x="0" y="30" width="420" height="390" fill="#000"/>
<use href="#wz0" fill="rgb(47,47,47)"/>
<use href="#wz1" fill="rgb(107,107,107)"/>
<use href="#wz2" fill="rgb(178,178,178)"/>
<use href="#wz3" fill="rgb(76,76,76)"/>
<use href="#wz4" fill="rgb(161,161,161)"/>
<use href="#wz5" fill="rgb(171,171,171)"/>
<use href="#wz6" fill="rgb(171,171,171)"/>
<use href="#wz7" fill="rgb(110,110,110)"/>
<use href="#wz8" fill="rgb(61,61,61)"/>
<use href="#wz9" fill="rgb(23,23,23)"/>
<use href="#wz10" fill="rgb(0,0,0)"/>
<use href="#wz11" fill="rgb(41,41,41)"/>
<use href="#wz12" fill="rgb(174,174,174)"/>
<use href="#wz13" fill="rgb(83,83,83)"/>
<use href="#wz14" fill="rgb(127,127,127)"/>
<use href="#wz15" fill="rgb(124,124,124)"/>
<use href="#wz16" fill="rgb(99,99,99)"/>
<use href="#wz17" fill="rgb(116,116,116)"/>
<use href="#wz18" fill="rgb(91,91,91)"/>
<use href="#wz19" fill="rgb(151,151,151)"/>
<use href="#wz20" fill="rgb(138,138,138)"/>
<use href="#wz21" fill="rgb(69,69,69)"/>
<use href="#wz22" fill="rgb(124,124,124)"/>
<use href="#wz23" fill="rgb(154,154,154)"/>
<use href="#wz24" fill="rgb(143,143,143)"/>
<use href="#wz25" fill="rgb(110,110,110)"/>
<use href="#wz26" fill="rgb(76,76,76)"/>
</g></g>
<use href="#lakes" fill="#122C7C"/>
<use href="#gl" fill="#CC5338"/>
<g fill="none" stroke="#1f4a66" stroke-width="0.9" stroke-opacity="0.5" stroke-dasharray="3 1.5 1 2 5 1"><use href="#na"/><use href="#eu"/><use href="#isl"/></g>
<use href="#wat" fill="#fff" stroke="#1f4a66" stroke-width="0.7" stroke-opacity="0.4" stroke-dasharray="3 1.5 1 2 5 1"/>
<g clip-path="url(#archclip)"><rect x="100" y="170" width="90" height="90" fill="#fff" filter="url(#fragA)"/></g>
<use href="#watac" fill="#fff"/><use href="#aleut" fill="none" stroke="#5b3328" stroke-width="1.0" stroke-dasharray="2.4 1.2"/>
<path d="M35.5,288 39,284.5 44,283.2 51.5,287.5 52,299 45,303.5 36.5,300.5Z" fill="#fff" stroke="#9a9a9a" stroke-width="0.5" stroke-dasharray="1 0.8"/>
</g></g>
<g stroke="#555" stroke-width="1.0" stroke-dasharray="3.2 2.6" fill="none">
<line x1="201.3" y1="462.2" x2="201.3" y2="646.9"/>
<line x1="323.2" y1="462.2" x2="203.9" y2="646.9"/>
<line x1="386.6" y1="555.3" x2="205.3" y2="648.8"/>
<line x1="386.6" y1="650.9" x2="205.3" y2="650.9"/>
<line x1="386.6" y1="746.5" x2="205.3" y2="653.0"/>
<line x1="317.5" y1="830.8" x2="203.9" y2="654.9"/>
<line x1="201.3" y1="830.8" x2="201.3" y2="654.9"/>
<line x1="85.1" y1="830.8" x2="198.7" y2="654.9"/>
<line x1="17.9" y1="745.5" x2="197.3" y2="653.0"/>
<line x1="17.9" y1="650.9" x2="197.3" y2="650.9"/>
<line x1="17.9" y1="556.3" x2="197.3" y2="648.8"/>
<line x1="79.4" y1="462.2" x2="198.7" y2="646.9"/>
</g>
<path d="M201.3,460.2v4 M323.2,460.2v4 M384.6,555.3h4 M384.6,650.9h4 M384.6,746.5h4 M317.5,828.8v4 M201.3,828.8v4 M85.1,828.8v4 M15.9,745.5h4 M15.9,650.9h4 M15.9,556.3h4 M79.4,460.2v4" stroke="#222" stroke-width="0.9" fill="none"/>
<rect x="17.9" y="462.2" width="368.7" height="368.6" fill="none" stroke="#0a0a0a" stroke-width="1.3"/>
</g>
<g id="panel-d">
<g transform="matrix(0.96676 0 0 0.96687 410.055 435.429)"><g clip-path="url(#disc)">
<use href="#na" fill="#CC5338"/><use href="#eu" fill="#CC5338"/><use href="#isl" fill="#CC5338"/>
<g clip-path="url(#landclip)"><g filter="url(#texd)"><rect x="0" y="30" width="420" height="390" fill="#000"/>
<use href="#wz0" fill="rgb(39,39,39)"/>
<use href="#wz1" fill="rgb(92,92,92)"/>
<use href="#wz2" fill="rgb(153,153,153)"/>
<use href="#wz3" fill="rgb(51,51,51)"/>
<use href="#wz4" fill="rgb(140,140,140)"/>
<use href="#wz5" fill="rgb(148,148,148)"/>
<use href="#wz6" fill="rgb(142,142,142)"/>
<use href="#wz7" fill="rgb(92,92,92)"/>
<use href="#wz8" fill="rgb(36,36,36)"/>
<use href="#wz9" fill="rgb(13,13,13)"/>
<use href="#wz10" fill="rgb(0,0,0)"/>
<use href="#wz11" fill="rgb(46,46,46)"/>
<use href="#wz12" fill="rgb(145,145,145)"/>
<use href="#wz13" fill="rgb(69,69,69)"/>
<use href="#wz14" fill="rgb(106,106,106)"/>
<use href="#wz15" fill="rgb(103,103,103)"/>
<use href="#wz16" fill="rgb(83,83,83)"/>
<use href="#wz17" fill="rgb(96,96,96)"/>
<use href="#wz18" fill="rgb(76,76,76)"/>
<use href="#wz19" fill="rgb(126,126,126)"/>
<use href="#wz20" fill="rgb(115,115,115)"/>
<use href="#wz21" fill="rgb(57,57,57)"/>
<use href="#wz22" fill="rgb(103,103,103)"/>
<use href="#wz23" fill="rgb(129,129,129)"/>
<use href="#wz24" fill="rgb(119,119,119)"/>
<use href="#wz25" fill="rgb(92,92,92)"/>
<use href="#wz26" fill="rgb(0,0,0)"/>
</g></g>
<use href="#lakes" fill="#122C7C"/>
<use href="#gl" fill="#CC5338"/>
<use href="#wat" fill="#fff"/>
<g clip-path="url(#archclip)"><rect x="100" y="170" width="90" height="90" fill="#fff" filter="url(#fragB)"/></g>
<use href="#watbd" fill="#fff"/><use href="#blacksea" fill="#122C7C"/>
<use href="#ob" fill="none" stroke="#122C7C" stroke-width="1.6" stroke-linejoin="round"/>
</g></g>
<g stroke="#7c7c7c" stroke-width="1.25" stroke-dasharray="3.2 2.6" fill="none">
<line x1="605.8" y1="461.9" x2="605.8" y2="645.3"/>
<line x1="725.4" y1="461.9" x2="608.4" y2="645.3"/>
<line x1="787.8" y1="554.2" x2="609.8" y2="647.2"/>
<line x1="787.8" y1="649.3" x2="609.8" y2="649.3"/>
<line x1="787.8" y1="744.4" x2="609.8" y2="651.4"/>
<line x1="719.4" y1="827.4" x2="608.4" y2="653.3"/>
<line x1="605.8" y1="827.4" x2="605.8" y2="653.3"/>
<line x1="492.2" y1="827.4" x2="603.2" y2="653.3"/>
<line x1="426.8" y1="742.8" x2="601.8" y2="651.4"/>
<line x1="426.8" y1="649.3" x2="601.8" y2="649.3"/>
<line x1="426.8" y1="555.8" x2="601.8" y2="647.2"/>
<line x1="486.2" y1="461.9" x2="603.2" y2="645.3"/>
</g>
<path d="M605.8,459.9v4 M725.4,459.9v4 M785.8,554.2h4 M785.8,649.3h4 M785.8,744.4h4 M719.4,825.4v4 M605.8,825.4v4 M492.2,825.4v4 M424.8,742.8h4 M424.8,649.3h4 M424.8,555.8h4 M486.2,459.9v4" stroke="#222" stroke-width="0.9" fill="none"/>
<rect x="426.8" y="461.9" width="361.0" height="365.5" fill="none" stroke="#0a0a0a" stroke-width="1.3"/>
</g>
<text class="tk" x="79.2" y="20.4" textLength="44" lengthAdjust="spacingAndGlyphs">150°0'0"W</text>
<text class="tk" x="202.1" y="20.4" textLength="34.7" lengthAdjust="spacingAndGlyphs">180°0'0"</text>
<text class="tk" x="326.8" y="20.4" textLength="41" lengthAdjust="spacingAndGlyphs">150°0'0"E</text>
<text class="tk" x="84.9" y="416.6" textLength="38.5" lengthAdjust="spacingAndGlyphs">30°0'0"W</text>
<text class="tk" x="202.9" y="416.6" textLength="25.2" lengthAdjust="spacingAndGlyphs">0°0'0"</text>
<text class="tk" x="483.7" y="19.8" textLength="44" lengthAdjust="spacingAndGlyphs">150°0'0"W</text>
<text class="tk" x="604.7" y="19.8" textLength="34.7" lengthAdjust="spacingAndGlyphs">180°0'0"</text>
<text class="tk" x="725.9" y="19.8" textLength="41" lengthAdjust="spacingAndGlyphs">150°0'0"E</text>
<text class="tk" x="604.1" y="417.2" textLength="25.2" lengthAdjust="spacingAndGlyphs">0°0'0"</text>
<text class="tk" x="719.8" y="417.2" textLength="36" lengthAdjust="spacingAndGlyphs">30°0'0"E</text>
<text class="tk" x="78.9" y="456.5" textLength="44" lengthAdjust="spacingAndGlyphs">150°0'0"W</text>
<text class="tk" x="201.7" y="456.5" textLength="34.7" lengthAdjust="spacingAndGlyphs">180°0'0"</text>
<text class="tk" x="85" y="842" textLength="38.5" lengthAdjust="spacingAndGlyphs">30°0'0"W</text>
<text class="tk" x="201.4" y="842" textLength="25.2" lengthAdjust="spacingAndGlyphs">0°0'0"</text>
<text class="tk" x="317" y="842" textLength="36" lengthAdjust="spacingAndGlyphs">30°0'0"E</text>
<text class="tk" x="606.6" y="456.5" textLength="34.7" lengthAdjust="spacingAndGlyphs">180°0'0"</text>
<text class="tk" x="726.2" y="456.5" textLength="41" lengthAdjust="spacingAndGlyphs">150°0'0"E</text>
<text class="tk" x="492.2" y="838.2" textLength="38.5" lengthAdjust="spacingAndGlyphs">30°0'0"W</text>
<text class="tk" x="605.8" y="838.2" textLength="25.2" lengthAdjust="spacingAndGlyphs">0°0'0"</text>
<text class="tk" x="719.7" y="838.2" textLength="36" lengthAdjust="spacingAndGlyphs">30°0'0"E</text>
<rect x="24.2" y="29.6" width="20.2" height="10.6" fill="#CC5338" stroke="#6e5a44" stroke-width="0.5"/>
<text class="lg" x="47.4" y="38.2">&lt; 0.025</text>
<rect x="24.2" y="44.2" width="20.2" height="10.6" fill="#EF9A20" stroke="#6e5a44" stroke-width="0.5"/>
<text class="lg" x="47.4" y="52.8">0.025 - 0.075</text>
<rect x="24.2" y="58.7" width="20.2" height="10.6" fill="#FDF620" stroke="#6e5a44" stroke-width="0.5"/>
<text class="lg" x="47.4" y="67.3">0.075 - 0.125</text>
<rect x="24.2" y="73.2" width="20.2" height="10.6" fill="#2AD62A" stroke="#6e5a44" stroke-width="0.5"/>
<text class="lg" x="47.4" y="81.8">0.125 - 0.175</text>
<rect x="24.2" y="87.8" width="20.2" height="10.6" fill="#26A08A" stroke="#6e5a44" stroke-width="0.5"/>
<text class="lg" x="47.4" y="96.4">0.175 - 0.225</text>
<rect x="24.2" y="102.3" width="20.2" height="10.6" fill="#0F2E7E" stroke="#6e5a44" stroke-width="0.5"/>
<text class="lg" x="50.5" y="110.9">≥ 0.225</text>
<rect x="24.2" y="116.9" width="20.2" height="10.6" fill="#BEBEBE" stroke="#6e5a44" stroke-width="0.5"/>
<text x="47.6" y="125.2" style="font-size:7.5px;font-weight:bold;fill:#1a1a1a">Continents</text>
<text class="ttl" x="275.9" y="70.7" textLength="22.4" lengthAdjust="spacingAndGlyphs">(a)</text>
<text class="ttl" x="313.2" y="70.7" font-style="italic" textLength="24" lengthAdjust="spacingAndGlyphs">fw</text>
<text x="339.6" y="73.2" font-style="italic" style="font-size:12.4px;fill:#0c0c10;stroke:#0c0c10;stroke-width:0.25px" textLength="44.2">WBand</text>
<text class="ttl" x="660" y="70.7" textLength="24.5" lengthAdjust="spacingAndGlyphs">(b)</text>
<text class="ttl" x="700" y="70.7" textLength="84" lengthAdjust="spacingAndGlyphs">ASAR300</text>
<text class="ttl" x="39.5" y="500.3" textLength="87.5" lengthAdjust="spacingAndGlyphs">(c) GLC30</text>
<text class="ttl" x="628.5" y="496.5" textLength="125" lengthAdjust="spacingAndGlyphs">(d) MOD44W</text>
<g id="hist">
<rect x="291" y="366.5" width="286.5" height="155" fill="#fff"/><rect x="333" y="520" width="215" height="19" fill="#fff"/>
<rect x="331.2" y="384.4" width="8.1" height="123.2" fill="url(#hatch)" stroke="#444" stroke-width="0.55"/>
<rect x="339.3" y="377.3" width="8.1" height="130.3" fill="#808080" stroke="#444" stroke-width="0.55"/>
<rect x="347.4" y="389.3" width="8.1" height="118.3" fill="#C0C0C0" stroke="#444" stroke-width="0.55"/>
<rect x="355.5" y="380.6" width="8.1" height="127.0" fill="#000" stroke="#444" stroke-width="0.55"/>
<rect x="371.0" y="495.3" width="8.1" height="12.3" fill="url(#hatch)" stroke="#444" stroke-width="0.55"/>
<rect x="379.1" y="499.7" width="8.1" height="7.9" fill="#808080" stroke="#444" stroke-width="0.55"/>
<rect x="387.2" y="497.1" width="8.1" height="10.5" fill="#C0C0C0" stroke="#444" stroke-width="0.55"/>
<rect x="395.3" y="500.2" width="8.1" height="7.4" fill="#000" stroke="#444" stroke-width="0.55"/>
<rect x="410.7" y="501.4" width="8.1" height="6.2" fill="url(#hatch)" stroke="#444" stroke-width="0.55"/>
<rect x="418.8" y="503.0" width="8.1" height="4.6" fill="#808080" stroke="#444" stroke-width="0.55"/>
<rect x="426.9" y="501.4" width="8.1" height="6.2" fill="#C0C0C0" stroke="#444" stroke-width="0.55"/>
<rect x="435.0" y="502.5" width="8.1" height="5.1" fill="#000" stroke="#444" stroke-width="0.55"/>
<rect x="450.5" y="503.2" width="8.1" height="4.4" fill="url(#hatch)" stroke="#444" stroke-width="0.55"/>
<rect x="458.6" y="504.1" width="8.1" height="3.5" fill="#808080" stroke="#444" stroke-width="0.55"/>
<rect x="466.7" y="502.7" width="8.1" height="4.9" fill="#C0C0C0" stroke="#444" stroke-width="0.55"/>
<rect x="474.8" y="503.7" width="8.1" height="3.9" fill="#000" stroke="#444" stroke-width="0.55"/>
<rect x="490.3" y="504.5" width="8.1" height="3.1" fill="url(#hatch)" stroke="#444" stroke-width="0.55"/>
<rect x="498.4" y="505.1" width="8.1" height="2.5" fill="#808080" stroke="#444" stroke-width="0.55"/>
<rect x="506.5" y="503.5" width="8.1" height="4.1" fill="#C0C0C0" stroke="#444" stroke-width="0.55"/>
<rect x="514.6" y="504.6" width="8.1" height="3.0" fill="#000" stroke="#444" stroke-width="0.55"/>
<rect x="530.0" y="505.3" width="8.1" height="2.3" fill="url(#hatch)" stroke="#444" stroke-width="0.55"/>
<rect x="538.1" y="505.8" width="8.1" height="1.8" fill="#808080" stroke="#444" stroke-width="0.55"/>
<rect x="546.2" y="504.3" width="8.1" height="3.3" fill="#C0C0C0" stroke="#444" stroke-width="0.55"/>
<rect x="554.3" y="505.5" width="8.1" height="2.1" fill="#000" stroke="#444" stroke-width="0.55"/>
<rect x="328.0" y="367.6" width="238.6" height="140.0" fill="none" stroke="#777" stroke-width="1"/>
<path d="M328.0,507.6v4.2 M328.0,367.6v4.2 M347.9,507.6v2.6 M347.9,367.6v2.6 M367.8,507.6v4.2 M367.8,367.6v4.2 M387.6,507.6v2.6 M387.6,367.6v2.6 M407.5,507.6v4.2 M407.5,367.6v4.2 M427.4,507.6v2.6 M427.4,367.6v2.6 M447.3,507.6v4.2 M447.3,367.6v4.2 M467.2,507.6v2.6 M467.2,367.6v2.6 M487.1,507.6v4.2 M487.1,367.6v4.2 M507.0,507.6v2.6 M507.0,367.6v2.6 M526.8,507.6v4.2 M526.8,367.6v4.2 M546.7,507.6v2.6 M546.7,367.6v2.6 M566.6,507.6v4.2 M566.6,367.6v4.2 M328.0,507.6h-4.6 M566.6,507.6h-4.6 M328.0,499.4h-2.8 M566.6,499.4h-2.8 M328.0,491.2h-4.6 M566.6,491.2h-4.6 M328.0,483.0h-2.8 M566.6,483.0h-2.8 M328.0,474.7h-4.6 M566.6,474.7h-4.6 M328.0,466.5h-2.8 M566.6,466.5h-2.8 M328.0,458.3h-4.6 M566.6,458.3h-4.6 M328.0,450.1h-2.8 M566.6,450.1h-2.8 M328.0,441.9h-4.6 M566.6,441.9h-4.6 M328.0,433.7h-2.8 M566.6,433.7h-2.8 M328.0,425.5h-4.6 M566.6,425.5h-4.6 M328.0,417.2h-2.8 M566.6,417.2h-2.8 M328.0,409.0h-4.6 M566.6,409.0h-4.6 M328.0,400.8h-2.8 M566.6,400.8h-2.8 M328.0,392.6h-4.6 M566.6,392.6h-4.6 M328.0,384.4h-2.8 M566.6,384.4h-2.8 M328.0,376.2h-4.6 M566.6,376.2h-4.6" stroke="#8a8a8a" stroke-width="0.9" fill="none"/>
<text class="hx" x="328.0" y="517.6" textLength="17.4" lengthAdjust="spacingAndGlyphs">0.00</text>
<text class="hx" x="367.8" y="517.6" textLength="17.4" lengthAdjust="spacingAndGlyphs">0.02</text>
<text class="hx" x="407.5" y="517.6" textLength="17.4" lengthAdjust="spacingAndGlyphs">0.04</text>
<text class="hx" x="447.3" y="517.6" textLength="17.4" lengthAdjust="spacingAndGlyphs">0.06</text>
<text class="hx" x="487.1" y="517.6" textLength="17.4" lengthAdjust="spacingAndGlyphs">0.08</text>
<text class="hx" x="526.8" y="517.6" textLength="17.4" lengthAdjust="spacingAndGlyphs">0.10</text>
<text class="hx" x="566.6" y="517.6" textLength="17.4" lengthAdjust="spacingAndGlyphs">0.12</text>
<text class="hy" x="319.3" y="509.8" textLength="10.5" lengthAdjust="spacingAndGlyphs">0.0</text>
<text class="hy" x="319.3" y="493.4" textLength="10.5" lengthAdjust="spacingAndGlyphs">0.1</text>
<text class="hy" x="319.3" y="476.9" textLength="10.5" lengthAdjust="spacingAndGlyphs">0.2</text>
<text class="hy" x="319.3" y="460.5" textLength="10.5" lengthAdjust="spacingAndGlyphs">0.3</text>
<text class="hy" x="319.3" y="444.1" textLength="10.5" lengthAdjust="spacingAndGlyphs">0.4</text>
<text class="hy" x="319.3" y="427.7" textLength="10.5" lengthAdjust="spacingAndGlyphs">0.5</text>
<text class="hy" x="319.3" y="411.2" textLength="10.5" lengthAdjust="spacingAndGlyphs">0.6</text>
<text class="hy" x="319.3" y="394.8" textLength="10.5" lengthAdjust="spacingAndGlyphs">0.7</text>
<text class="hy" x="319.3" y="378.4" textLength="10.5" lengthAdjust="spacingAndGlyphs">0.8</text>
<text x="339.4" y="531.4" style="font-size:11.8px;font-weight:bold;fill:#161616" textLength="202" lengthAdjust="spacingAndGlyphs">Fractional Open Water Inundation</text>
<text transform="translate(302.6,506.6) rotate(-90)" style="font-size:11.8px;font-weight:bold;fill:#161616" textLength="114.5" lengthAdjust="spacingAndGlyphs">Relative Frequency</text>
<rect x="473.3" y="376.5" width="25.5" height="7.7" fill="url(#hatch)" stroke="#777" stroke-width="0.4"/>
<rect x="473.3" y="390.2" width="25.5" height="7.4" fill="#808080" stroke="#777" stroke-width="0.4"/>
<text x="502.6" y="396.8" style="font-size:8.8px;font-weight:bold;fill:#161616" textLength="47.4" lengthAdjust="spacingAndGlyphs">ASAR300</text>
<rect x="473.3" y="400.5" width="25.5" height="7.1" fill="#C0C0C0" stroke="#777" stroke-width="0.4"/>
<text x="502.6" y="406.9" style="font-size:8.8px;font-weight:bold;fill:#161616" textLength="34.6" lengthAdjust="spacingAndGlyphs">GLC30</text>
<rect x="473.3" y="410.9" width="25.5" height="7.1" fill="#000" stroke="#777" stroke-width="0.4"/>
<text x="502.6" y="417.1" style="font-size:8.8px;font-weight:bold;fill:#161616" textLength="47.4" lengthAdjust="spacingAndGlyphs">MOD44W</text>
<text x="503.6" y="382.6" font-style="italic" style="font-size:8.6px;font-weight:bold;fill:#161616" textLength="11.2" lengthAdjust="spacingAndGlyphs">fw</text>
<text x="515.5" y="386" font-style="italic" style="font-size:5.8px;font-weight:bold;fill:#161616" textLength="29.6" lengthAdjust="spacingAndGlyphs">WBand</text>
<text class="ttl" x="376.2" y="466.5" textLength="23" lengthAdjust="spacingAndGlyphs">(e)</text>
<text class="ttl" x="421.3" y="466.5" font-style="italic" textLength="20.6" lengthAdjust="spacingAndGlyphs">fw</text>
<text class="ttl" x="452.8" y="466.5" textLength="106.5" lengthAdjust="spacingAndGlyphs">distribution</text>
</g>
</svg></body></html>
